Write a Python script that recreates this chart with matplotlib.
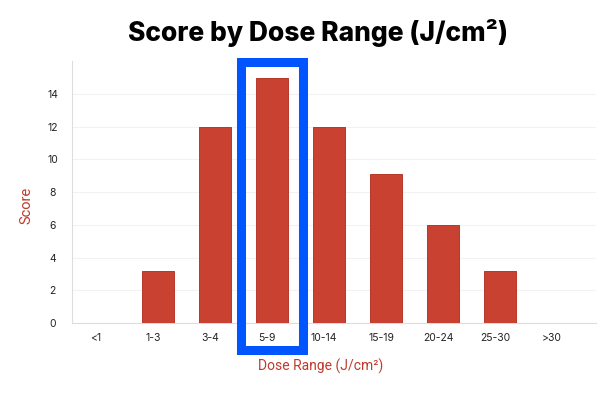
import numpy as np
import matplotlib
matplotlib.use('Agg')
import matplotlib.pyplot as plt
import matplotlib.transforms as mtransforms
from matplotlib.patches import Rectangle

# data
dose_ranges = ['<1', '1-3', '3-4', '5-9', '10-14', '15-19', '20-24', '25-30', '>30']
scores = [0, 3.2, 12, 15, 12, 9.1, 6, 3.2, 0]
highlight = '5-9'

bar_color = '#c94131'
label_color = '#c0392b'
blue = '#0055ff'

plt.rcParams['font.family'] = ['Inter', 'DejaVu Sans']

fig = plt.figure(figsize=(6, 3.93), dpi=100)
ax = fig.add_axes([0.12, 0.178, 0.873, 0.666])

x = np.arange(len(dose_ranges))
ax.bar(x, scores, width=0.56, color=bar_color, edgecolor='#b5382a', linewidth=0.7, zorder=3)

ax.set_xlim(-0.51, 8.68)
ax.set_ylim(0, 16)
ax.set_yticks(np.arange(0, 15, 2))
ax.set_xticks(x)
ax.set_xticklabels(dose_ranges)
ax.tick_params(axis='both', length=0, labelsize=7.5, colors='#222222')
ax.tick_params(axis='x', pad=7)
ax.tick_params(axis='y', pad=14)
for lbl in ax.get_yticklabels():
    lbl.set_horizontalalignment('center')
# x labels sit a little left of the bars in the reference
shift = mtransforms.ScaledTranslation(-5 / 100, 0, fig.dpi_scale_trans)
for lbl in ax.get_xticklabels():
    lbl.set_transform(lbl.get_transform() + shift)

ax.grid(axis='y', color='#f2f2f2', linewidth=0.8, zorder=0)
for s in ['top', 'right']:
    ax.spines[s].set_visible(False)
for s in ['left', 'bottom']:
    ax.spines[s].set_color('#dddddd')
    ax.spines[s].set_linewidth(0.8)

ax.set_ylabel('Score', color=label_color, fontsize=10.5, family=['Roboto', 'DejaVu Sans'])
ax.yaxis.set_label_coords(-0.073, 0.45)
ax.set_xlabel('Dose Range (J/cm²)', color=label_color, fontsize=10, family=['Roboto', 'DejaVu Sans'])
ax.xaxis.set_label_coords(0.475, -0.135)

fig.suptitle('Score by Dose Range (J/cm²)', fontsize=19, fontweight='heavy', x=0.53, y=0.952)

# highlight box round the 5-9 bar
i = dose_ranges.index(highlight)
ax.add_patch(Rectangle((i - 0.55, -1.65), 1.1, 17.6, fill=False, edgecolor=blue,
                       linewidth=6.5, clip_on=False, zorder=5))

fig.savefig('out.png', dpi=100)
